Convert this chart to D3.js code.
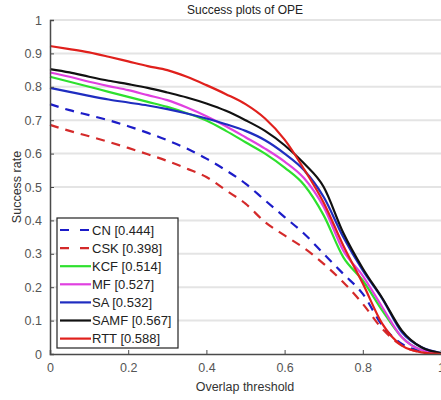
<!DOCTYPE html>
<html lang="en">
<head>
    <meta charset="UTF-8">
    <title>Success plots of OPE</title>
    <script src="https://d3js.org/d3.v7.min.js"></script>
    <style>
        body { margin: 0; background: #fff; }
        text { font-family: "Liberation Sans", Arial, sans-serif; }
    </style>
</head>
<body>
<script>

    // thresholds and success rates
    var thresholds = [0, 0.05, 0.1, 0.15, 0.2, 0.25, 0.3, 0.35, 0.4, 0.45, 0.5,
                      0.55, 0.6, 0.65, 0.7, 0.75, 0.8, 0.85, 0.9, 0.95, 1];

    var cnRate   = [0.748, 0.73, 0.715, 0.70, 0.682, 0.662, 0.64, 0.615, 0.585, 0.55, 0.51,
                    0.46, 0.41, 0.36, 0.30, 0.24, 0.18, 0.085, 0.03, 0.008, 0];
    var cskRate  = [0.686, 0.668, 0.652, 0.635, 0.617, 0.598, 0.578, 0.555, 0.53, 0.49, 0.45,
                    0.395, 0.355, 0.317, 0.27, 0.215, 0.15, 0.075, 0.025, 0.005, 0];
    var kcfRate  = [0.83, 0.815, 0.80, 0.785, 0.77, 0.755, 0.74, 0.721, 0.699, 0.668, 0.634,
                    0.6, 0.558, 0.506, 0.415, 0.29, 0.22, 0.13, 0.05, 0.012, 0.002];
    var mfRate   = [0.843, 0.83, 0.815, 0.802, 0.79, 0.775, 0.76, 0.738, 0.712, 0.682, 0.649,
                    0.615, 0.576, 0.526, 0.44, 0.31, 0.234, 0.14, 0.05, 0.012, 0.002];
    var saRate   = [0.797, 0.785, 0.773, 0.762, 0.753, 0.744, 0.733, 0.72, 0.705, 0.688, 0.668,
                    0.64, 0.6, 0.55, 0.47, 0.35, 0.25, 0.165, 0.065, 0.02, 0.003];
    var samfRate = [0.853, 0.843, 0.83, 0.818, 0.808, 0.797, 0.783, 0.768, 0.75, 0.728, 0.70,
                    0.668, 0.625, 0.57, 0.50, 0.363, 0.256, 0.167, 0.07, 0.02, 0.003];
    var rttRate  = [0.922, 0.913, 0.903, 0.89, 0.876, 0.862, 0.85, 0.83, 0.805, 0.778, 0.748,
                    0.705, 0.642, 0.553, 0.453, 0.325, 0.211, 0.09, 0.025, 0.005, 0];

    var names  = ["CN", "CSK", "KCF", "MF", "SA", "SAMF", "RTT"];
    var scores = ["0.444", "0.398", "0.514", "0.527", "0.532", "0.567", "0.588"];
    var rates  = [cnRate, cskRate, kcfRate, mfRate, saRate, samfRate, rttRate];
    var colors = ["#1c1cc8", "#d42a2a", "#2ee02e", "#e040e0", "#1f2dc0", "#111111", "#e0201c"];
    var dashed = [true, true, false, false, false, false, false];

    var yTicks = [0, 0.1, 0.2, 0.3, 0.4, 0.5, 0.6, 0.7, 0.8, 0.9, 1];
    var xTicks = [0, 0.2, 0.4, 0.6, 0.8, 1];

    var width = 441;
    var height = 400;
    var margin = {top: 20, right: 0, bottom: 46, left: 50};

    var svg = d3.select("body")
        .append("svg")
        .attr("width", width)
        .attr("height", height);

    var x = d3.scaleLinear().domain([0, 1]).range([margin.left, 441]);
    var y = d3.scaleLinear().domain([0, 1]).range([height - margin.bottom, margin.top]);

    // grid lines
    svg.append("g")
        .selectAll("line")
        .data(yTicks.slice(1))
        .enter()
        .append("line")
        .attr("x1", x(0))
        .attr("x2", x(1))
        .attr("y1", function(d) { return y(d); })
        .attr("y2", function(d) { return y(d); })
        .style("stroke", "#e4e4e4")
        .style("stroke-width", 2);

    // curves
    var line = d3.line()
        .x(function(d) { return x(d[0]); })
        .y(function(d) { return y(d[1]); })
        .curve(d3.curveMonotoneX);

    svg.append("g")
        .selectAll("path")
        .data(rates)
        .enter()
        .append("path")
        .attr("fill", "none")
        .attr("d", function(d) { return line(d3.zip(thresholds, d)); })
        .style("stroke", function(d, i) { return colors[i]; })
        .style("stroke-width", 2.2)
        .style("stroke-dasharray", function(d, i) { return dashed[i] ? "9,7" : null; });

    // axes, ticks pointing inward
    var fmt = function(d) { return d === 0 || d === 1 ? d3.format("d")(d) : d3.format(".1f")(d); };

    var xAxis = svg.append("g")
        .attr("transform", "translate(0," + y(0) + ")")
        .call(d3.axisBottom(x).tickValues(xTicks).tickSize(-4).tickPadding(9).tickFormat(fmt));

    var yAxis = svg.append("g")
        .attr("transform", "translate(" + x(0) + ",0)")
        .call(d3.axisLeft(y).tickValues(yTicks).tickSize(-4).tickPadding(8).tickFormat(fmt));

    [xAxis, yAxis].forEach(function(g) {
        g.select(".domain").style("stroke", "#4a4a4a").style("stroke-width", 1.5);
        g.selectAll(".tick line").style("stroke", "#4a4a4a");
        g.selectAll(".tick text")
            .style("font-size", "12.5px")
            .style("fill", "#555");
    });

    // title and axis labels
    svg.append("text")
        .attr("x", 245)
        .attr("y", 14)
        .attr("text-anchor", "middle")
        .style("font-size", "12px")
        .style("fill", "#222")
        .text("Success plots of OPE");

    svg.append("text")
        .attr("x", 245)
        .attr("y", 391)
        .attr("text-anchor", "middle")
        .style("font-size", "12.5px")
        .style("fill", "#333")
        .text("Overlap threshold");

    svg.append("text")
        .attr("transform", "translate(21," + y(0.5) + ") rotate(-90)")
        .attr("text-anchor", "middle")
        .style("font-size", "12.5px")
        .style("fill", "#333")
        .text("Success rate");

    // legend
    var legend = svg.append("g");

    legend.append("rect")
        .attr("x", 57)
        .attr("y", 218)
        .attr("width", 121)
        .attr("height", 130)
        .style("fill", "#fff")
        .style("stroke", "#222")
        .style("stroke-width", 1.2);

    var item = legend.selectAll("g.item")
        .data(names)
        .enter()
        .append("g")
        .attr("class", "item")
        .attr("transform", function(d, i) { return "translate(60," + (230 + i * 18.1) + ")"; });

    item.append("line")
        .attr("x1", 0)
        .attr("x2", 31)
        .style("stroke", function(d, i) { return colors[i]; })
        .style("stroke-width", 2.2)
        .style("stroke-dasharray", function(d, i) { return dashed[i] ? "9,11" : null; });

    item.append("text")
        .attr("x", 32)
        .attr("dy", "0.35em")
        .style("font-size", "13px")
        .style("fill", "#222")
        .text(function(d, i) { return d + " [" + scores[i] + "]"; });

</script>
</body>
</html>
